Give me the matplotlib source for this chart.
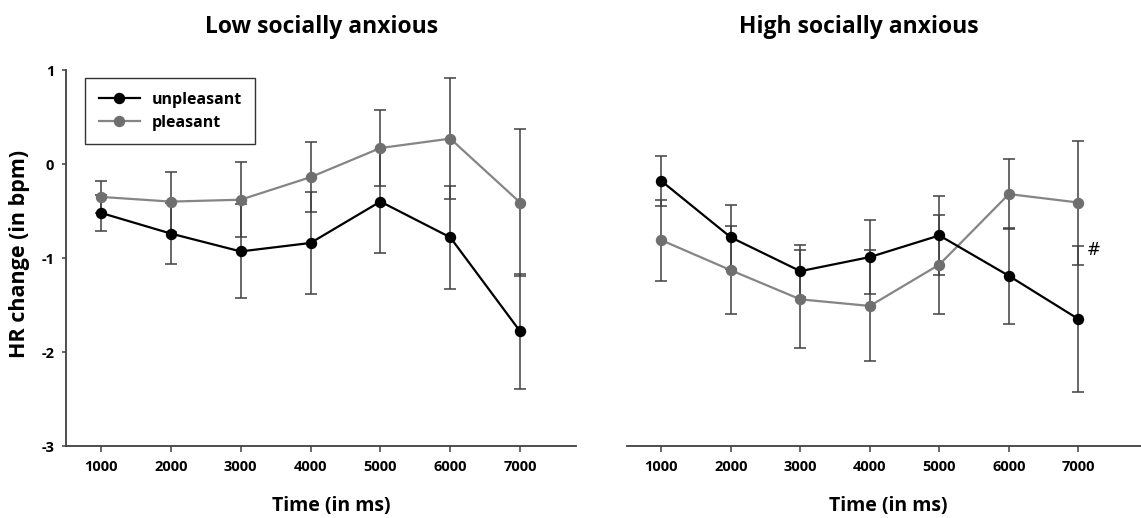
import matplotlib
matplotlib.use("Agg")
import matplotlib.pyplot as plt

plt.rcParams['font.family'] = ['Open Sans', 'DejaVu Sans']

times = [1000, 2000, 3000, 4000, 5000, 6000, 7000]
x_ticklabels = ["1000", "2000", "3000", "4000", "5000", "6000", "7000"]
y_ticks = [1, 0, -1, -2, -3]
y_ticklabels = ["1", "0", "-1", "-2", "-3"]

# Low socially anxious
low_unpl = [-0.52, -0.74, -0.93, -0.84, -0.40, -0.78, -1.78]
low_unpl_se = [0.19, 0.32, 0.50, 0.54, 0.55, 0.55, 0.61]
low_pl = [-0.35, -0.40, -0.38, -0.14, 0.17, 0.27, -0.41]
low_pl_se = [0.17, 0.32, 0.40, 0.37, 0.40, 0.64, 0.78]

# High socially anxious
high_unpl = [-0.18, -0.78, -1.14, -0.99, -0.76, -1.19, -1.65]
high_unpl_se = [0.27, 0.34, 0.28, 0.39, 0.42, 0.51, 0.78]
high_pl = [-0.81, -1.13, -1.44, -1.51, -1.07, -0.32, -0.41]
high_pl_se = [0.43, 0.47, 0.52, 0.59, 0.53, 0.37, 0.66]

titles = ["Low socially anxious", "High socially anxious"]
series_names = ["unpleasant", "pleasant"]
marker_text = "#"
marker_pos = (7220, -0.915)

W, H = 1141, 518
fig = plt.figure(figsize=(W / 100, H / 100), dpi=100)

def px_axes(x0, x1, ytop, ybot):
    return fig.add_axes([x0 / W, (H - ybot) / H, (x1 - x0) / W, (ybot - ytop) / H])

ax1 = px_axes(66, 576, 70, 446)
ax2 = px_axes(626.5, 1141, 70, 446)

axis_col = "#404040"
err_col = "#404040"
gray_line = "#858585"
gray_mark = "#6f6f6f"

def draw(ax, unpl, unpl_se, pl, pl_se):
    ax.errorbar(times, pl, yerr=pl_se, fmt='none', ecolor=err_col, elinewidth=1.1,
                capsize=4.2, capthick=1.1, zorder=2)
    ax.errorbar(times, unpl, yerr=unpl_se, fmt='none', ecolor=err_col, elinewidth=1.1,
                capsize=4.2, capthick=1.1, zorder=2)
    l2, = ax.plot(times, pl, color=gray_line, lw=1.6, marker='o', ms=7.2,
                  mfc=gray_mark, mec=gray_mark, zorder=3, label=series_names[1])
    l1, = ax.plot(times, unpl, color='black', lw=1.6, marker='o', ms=7.2,
                  mfc='black', mec='black', zorder=4, label=series_names[0])
    return l1, l2

l1, l2 = draw(ax1, low_unpl, low_unpl_se, low_pl, low_pl_se)
draw(ax2, high_unpl, high_unpl_se, high_pl, high_pl_se)

for ax, xr in ((ax1, (500, 7800)), (ax2, (500, 7900))):
    ax.set_xlim(*xr)
    ax.set_ylim(-3, 1)
    ax.set_xticks(times)
    ax.set_xticklabels(x_ticklabels, fontsize=10.5, fontweight='bold')
    ax.tick_params(axis='x', length=4.3, width=1.1, color=axis_col, pad=6)
    for s in ('top', 'right'):
        ax.spines[s].set_visible(False)
    for s in ('left', 'bottom'):
        ax.spines[s].set_color(axis_col)
        ax.spines[s].set_linewidth(1.3)

ax1.set_yticks(y_ticks)
ax1.set_yticklabels(y_ticklabels, fontsize=10.5, fontweight='bold')
ax1.tick_params(axis='y', length=3, width=1.1, color=axis_col, pad=5.5)
ax2.spines['left'].set_visible(False)
ax2.set_yticks([])

ax2.text(marker_pos[0], marker_pos[1], marker_text, fontsize=12, ha='center',
         va='center', family=['DejaVu Sans'])

leg = ax1.legend(handles=[l1, l2], loc='upper left',
                 bbox_to_anchor=((85 - 66) / 510, (446 - 78) / 376),
                 borderaxespad=0, frameon=True, fancybox=False,
                 prop={'weight': 'bold', 'size': 11.5}, handlelength=2.6,
                 handletextpad=0.7, labelspacing=0.45, borderpad=0.85)
leg.get_frame().set_edgecolor('black')
leg.get_frame().set_linewidth(1.0)

fig.text(321.5 / W, (H - 33) / H, titles[0], ha='center', va='baseline',
         fontsize=16.5, fontweight='bold')
fig.text(859 / W, (H - 33) / H, titles[1], ha='center', va='baseline',
         fontsize=16.5, fontweight='bold')
fig.text(19.5 / W, (H - 253.5) / H, "HR change (in bpm)", rotation=90,
         ha='center', va='center', fontsize=15.5, fontweight='bold')
fig.text(331 / W, (H - 511) / H, "Time (in ms)", ha='center', va='baseline',
         fontsize=14, fontweight='bold')
fig.text(888 / W, (H - 511) / H, "Time (in ms)", ha='center', va='baseline',
         fontsize=14, fontweight='bold')

fig.savefig("out.png", dpi=100)
